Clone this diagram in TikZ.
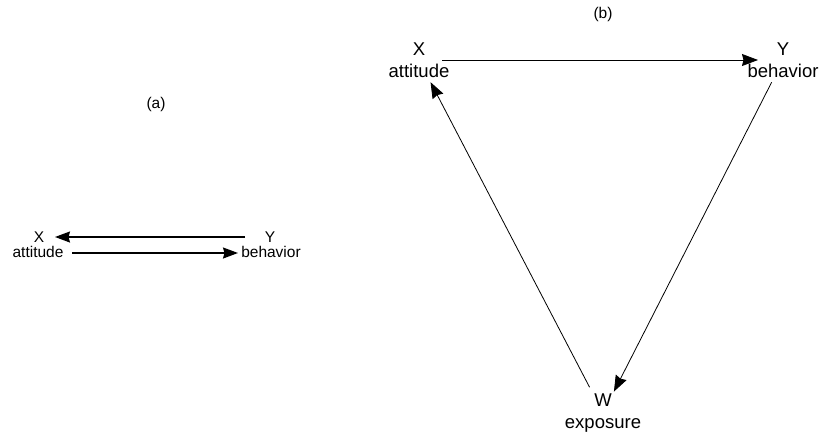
\documentclass[tikz,border=0pt]{standalone}
\usepackage{fontspec}
\setmainfont{Liberation Sans}
\usetikzlibrary{arrows.meta}

\begin{document}
\begin{tikzpicture}[
    x=1pt, y=-1pt,
    var/.style={inner sep=0pt, align=center, font=\fontsize{18.5}{22}\selectfont},
    smallvar/.style={inner sep=0pt, font=\fontsize{15.5}{18}\selectfont},
    caption/.style={inner sep=0pt, font=\fontsize{15.5}{18}\selectfont},
    loop/.style={-{Stealth[length=15pt, width=11pt, inset=1.5pt]}, line width=1.4pt},
    path/.style={-{Stealth[length=16pt, width=12pt, inset=1.5pt]}, line width=0.8pt}
]
\useasboundingbox (0,0) rectangle (822,439);

% (a) reciprocal
\node[caption] (capa) at (156,104) {(a)};
\node[smallvar] (xa) at (39,237) {X};
\node[smallvar] (xalbl) at (38,252) {attitude};
\node[smallvar] (ya) at (270,237) {Y};
\node[smallvar] (yalbl) at (271,252) {behavior};
\draw[loop, shorten <=25pt, shorten >=16pt] (ya.center) -- (xa.center);
\draw[loop, shorten <=34pt, shorten >=33pt] ([yshift=-1pt]xalbl.center) -- ([yshift=-1pt]yalbl.center);

% (b) triangle
\node[caption] (capb) at (603,14) {(b)};
\node[var] (xb) at (419,60) {X\\attitude};
\node[var] (yb) at (783,60) {Y\\behavior};
\node[var] (wb) at (603,413) {W\\exposure};
\draw[path, shorten <=23pt, shorten >=25pt] (xb.center) -- (yb.center);
\draw[path, shorten <=25pt, shorten >=24pt] (yb.center) -- (wb.center);
\draw[path, shorten <=29pt, shorten >=25pt] (wb.center) -- (xb.center);
\end{tikzpicture}
\end{document}
